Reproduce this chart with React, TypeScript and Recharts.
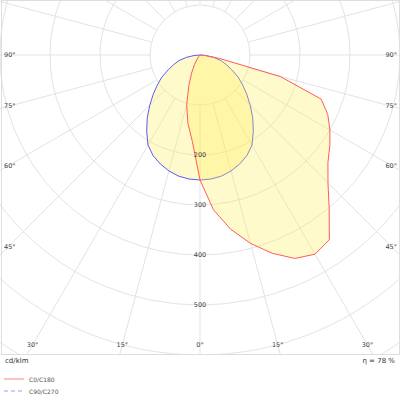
import React from "react";
import {
  RadarChart,
  Radar,
  PolarGrid,
  PolarAngleAxis,
  PolarRadiusAxis,
} from "recharts";

// gamma steps of the photometric data (degrees from nadir)
const gammaSteps = [
  0, 5, 10, 15, 20, 25, 30, 35, 40, 45, 50, 55, 60, 65, 70, 75, 80, 85, 90,
  95, 100, 105, 110, 115, 120, 125, 130, 135, 140, 145, 150, 155, 160, 165,
  170, 175, 180,
];

// cd/klm
const c0 = [
  250, 311, 354, 390, 422, 449, 460, 451, 402, 362, 334, 317, 300, 282, 258,
  166, 40, 8, 0, 0, 0, 0, 0, 0, 0, 0, 0, 0, 0, 0, 0, 0, 0, 0, 0, 0, 0,
];
const c180 = [
  250, 174, 139, 103, 65, 40, 22, 10, 4, 0, 0, 0, 0, 0, 0, 0, 0, 0, 0, 0, 0,
  0, 0, 0, 0, 0, 0, 0, 0, 0, 0, 0, 0, 0, 0, 0, 0,
];
const c90 = [
  250, 249, 246, 240, 232, 222, 208, 186, 164, 142, 122, 104, 88, 70, 56, 44,
  28, 12, 0, 0, 0, 0, 0, 0, 0, 0, 0, 0, 0, 0, 0, 0, 0, 0, 0, 0, 0,
];
const c270 = [
  250, 249, 246, 240, 232, 222, 208, 186, 164, 142, 122, 104, 88, 70, 56, 44,
  28, 12, 0, 0, 0, 0, 0, 0, 0, 0, 0, 0, 0, 0, 0, 0, 0, 0, 0, 0, 0,
];

const gridGammas = [
  0, 15, 30, 45, 60, 75, 90, 105, 120, 135, 150, 165, 180, 195, 210, 225, 240,
  255, 270, 285, 300, 315, 330, 345,
];
// positions on the full turn that carry an angle label
const angleTicks = [0, 15, 30, 45, 60, 75, 90, 270, 285, 300, 315, 330, 345];
const radiusTicks = [100, 200, 300, 400, 500, 600, 700];
const labelledRadii = [200, 300, 400, 500];

const W = 400;
const H = 355;
const CX = 200;
const CY = 55;
const R_MAX = 350;
const V_MAX = 700;
const GRID = "#e3e3e3";
const TXT = "#444";
const FONT = "DejaVu Sans";

// full turn: right half is C0 / C90, left half C180 / C270
const rows: { angle: number; red: number; blue: number }[] = [];
gammaSteps.forEach((g, i) => rows.push({ angle: g, red: c0[i], blue: c90[i] }));
for (let i = gammaSteps.length - 2; i >= 1; i--) {
  rows.push({ angle: 360 - gammaSteps[i], red: c180[i], blue: c270[i] });
}

const noMargin = { top: 0, right: 0, bottom: 0, left: 0 };

function AngleTick(props: any) {
  const a = Number(props.payload?.value);
  if (!angleTicks.includes(a)) return <g />;
  const g = a <= 180 ? a : 360 - a;
  const rad = (a * Math.PI) / 180;
  const dx = Math.sin(rad);
  const dy = Math.cos(rad);
  const tSide =
    dx > 1e-9 ? (392 - CX) / dx : dx < -1e-9 ? (8 - CX) / dx : Infinity;
  const tBot = dy > 1e-9 ? (345 - CY) / dy : Infinity;
  let x, y, anchor;
  if (tSide < tBot) {
    y = CY + tSide * dy;
    x = dx > 0 ? 397 : 4;
    anchor = dx > 0 ? "end" : "start";
  } else {
    x = CX + tBot * dx;
    y = 345;
    anchor = "middle";
  }
  return (
    <text
      x={x}
      y={y}
      textAnchor={anchor}
      dominantBaseline="central"
      fontSize={6.5}
      fontFamily={FONT}
      fill={TXT}
    >
      {g}°
    </text>
  );
}

function RadiusTick(props: any) {
  const v = props.payload?.value;
  if (!labelledRadii.includes(v)) return <g />;
  return (
    <text
      x={props.x}
      y={props.y}
      textAnchor="middle"
      dominantBaseline="central"
      fontSize={6.5}
      fontFamily={FONT}
      fill={TXT}
    >
      {v}
    </text>
  );
}

export default function App() {
  return (
    <div
      style={{
        position: "absolute",
        left: 0,
        top: 0,
        width: 400,
        height: 400,
        background: "#fff",
        fontFamily: FONT,
      }}
    >
      {/* radial lines, starting at the first ring */}
      <div style={{ position: "absolute", left: 0, top: 0 }}>
        <RadarChart
          width={W}
          height={H}
          data={rows}
          cx={CX}
          cy={CY}
          innerRadius={(R_MAX * radiusTicks[0]) / V_MAX}
          outerRadius={R_MAX}
          startAngle={-90}
          endAngle={270}
          margin={noMargin}
        >
          <PolarGrid
            gridType="circle"
            polarRadius={[]}
            polarAngles={gridGammas.map((g) => g - 90)}
            stroke={GRID}
          />
        </RadarChart>
      </div>
      <div style={{ position: "absolute", left: 0, top: 0 }}>
        <RadarChart
          width={W}
          height={H}
          data={rows}
          cx={CX}
          cy={CY}
          outerRadius={R_MAX}
          startAngle={-90}
          endAngle={270}
          margin={noMargin}
        >
          <PolarGrid gridType="circle" radialLines={false} stroke={GRID} />
          <PolarAngleAxis
            dataKey="angle"
            type="number"
            domain={[0, 360]}
            ticks={angleTicks}
            axisLine={false}
            tickLine={false}
            tick={<AngleTick />}
          />
          <PolarRadiusAxis
            type="number"
            angle={-90}
            domain={[0, V_MAX]}
            ticks={radiusTicks}
            axisLine={false}
            tickLine={false}
            tick={<RadiusTick />}
          />
          <Radar
            name="C90/C270"
            dataKey="blue"
            stroke="#5b5bf0"
            strokeWidth={1}
            strokeLinejoin="round"
            fill="#ffee55"
            fillOpacity={0.3}
            dot={false}
            activeDot={false}
            isAnimationActive={false}
          />
          <Radar
            name="C0/C180"
            dataKey="red"
            stroke="#ff5b5b"
            strokeWidth={1}
            strokeLinejoin="round"
            fill="#ffee55"
            fillOpacity={0.3}
            dot={false}
            activeDot={false}
            isAnimationActive={false}
          />
        </RadarChart>
      </div>
      <div
        style={{
          position: "absolute",
          left: 1,
          top: 0,
          width: 397,
          height: 353,
          border: "1px solid #dedede",
          pointerEvents: "none",
        }}
      />
      <div
        style={{
          position: "absolute",
          left: 5,
          top: 357,
          fontSize: 7,
          color: "#333",
        }}
      >
        cd/klm
      </div>
      <div
        style={{
          position: "absolute",
          right: 5,
          top: 357,
          fontSize: 7,
          color: "#333",
        }}
      >
        η = 78 %
      </div>
      <svg
        width={120}
        height={30}
        style={{ position: "absolute", left: 0, top: 372 }}
      >
        <line x1={4} x2={24} y1={7} y2={7} stroke="#ff9a9a" strokeWidth={1.2} />
        <text x={29} y={7} dominantBaseline="central" fontSize={6} fill="#555" fontFamily={FONT}>
          C0/C180
        </text>
        <line
          x1={4}
          x2={24}
          y1={19}
          y2={19}
          stroke="#9a9aff"
          strokeWidth={1.2}
          strokeDasharray="4 3"
        />
        <text x={29} y={19} dominantBaseline="central" fontSize={6} fill="#555" fontFamily={FONT}>
          C90/C270
        </text>
      </svg>
    </div>
  );
}
